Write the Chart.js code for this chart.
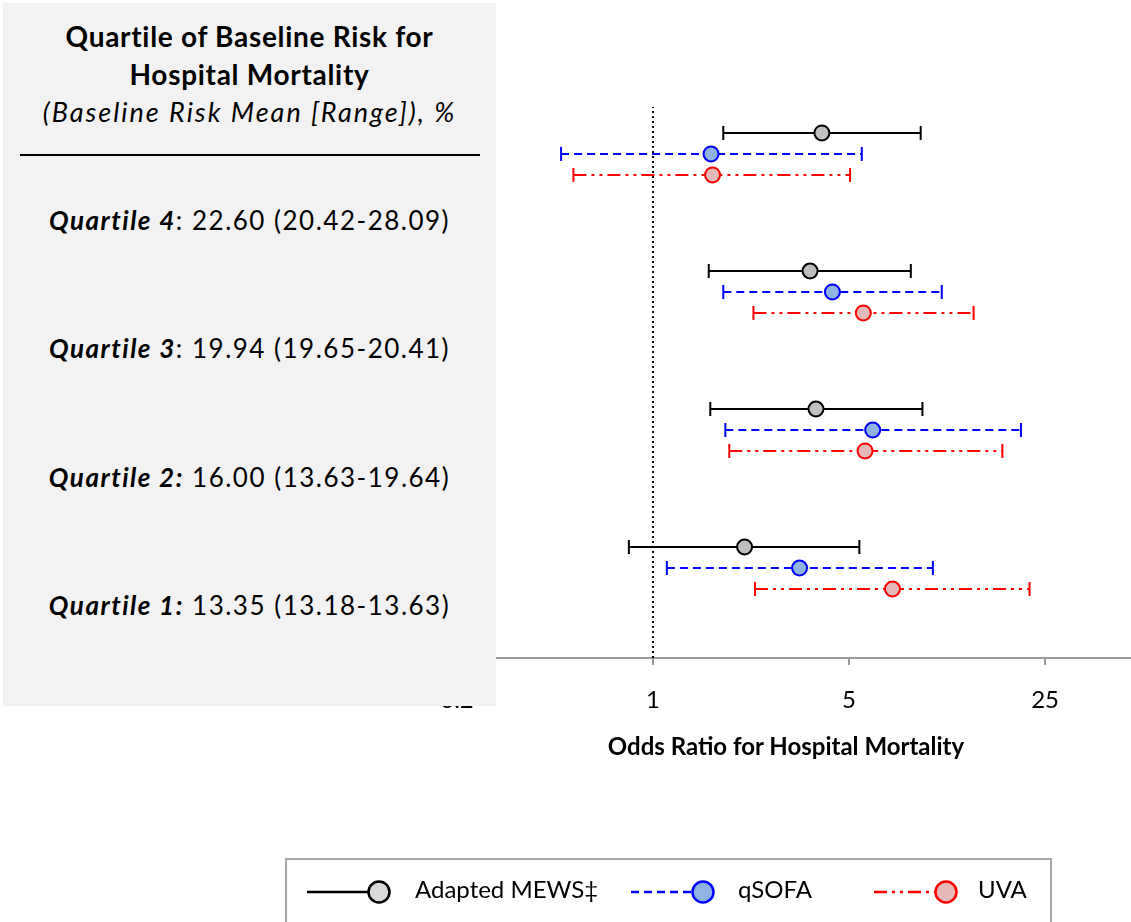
<!DOCTYPE html>
<html>
<head>
<meta charset="utf-8">
<script src="https://cdn.jsdelivr.net/npm/chart.js@4.4.1/dist/chart.umd.min.js"></script>
<style>
  html, body { margin:0; padding:0; background:#fff; }
  body { width:1131px; height:922px; position:relative; overflow:hidden; font-family: Lato, "Open Sans", sans-serif; color:#000; }
  #c { position:absolute; left:0; top:0; }
  #panel { position:absolute; left:3px; top:3px; width:493px; height:703px; background:#f2f2f2; }
  .ttl { position:absolute; left:0; width:493px; text-align:center; font-size:28px; font-weight:bold; line-height:30px; letter-spacing:0.7px; white-space:nowrap; }
  .sub { position:absolute; left:0; width:493px; text-align:center; font-size:27px; font-style:italic; line-height:30px; letter-spacing:2px; white-space:nowrap; }
  #rule { position:absolute; left:17px; top:151px; width:460px; height:2px; background:#000; }
  .q { position:absolute; left:0; width:493px; text-align:center; font-size:26px; line-height:30px; letter-spacing:1.5px; white-space:nowrap; }
  .q b { font-style:italic; }
  #xtitle { position:absolute; left:586px; width:400px; top:731px; line-height:30px; text-align:center; font-weight:bold; font-size:24px; white-space:nowrap; }
  #legend { position:absolute; left:285px; top:858px; width:767px; height:90px; border:2px solid #a6a6a6; box-sizing:border-box; }
  .li { position:absolute; top:14px; font-size:24px; line-height:30px; }
  .li svg { position:absolute; }
</style>
</head>
<body>
<canvas id="c" width="1131" height="922"></canvas>
<div id="panel"></div>
<div id="xtitle">Odds Ratio for Hospital Mortality</div>
<div id="legend"></div>
<script>
// ---- data ----
const quartiles = ['Quartile 4', 'Quartile 3', 'Quartile 2', 'Quartile 1'];
const riskMean = ['22.60', '19.94', '16.00', '13.35'];
const riskRange = ['20.42-28.09', '19.65-20.41', '13.63-19.64', '13.18-13.63'];
const rowPos = [4, 3, 2, 1];

const seriesNames = ['Adapted MEWS\u2021', 'qSOFA', 'UVA'];
const mewsOR = [4.00, 3.63, 3.81, 2.12];
const mewsLo = [1.78, 1.58, 1.60, 0.82];
const mewsHi = [9.00, 8.30, 9.13, 5.44];
const qsofaOR = [1.61, 4.36, 6.07, 3.33];
const qsofaLo = [0.47, 1.78, 1.81, 1.12];
const qsofaHi = [5.55, 10.7, 20.5, 9.95];
const uvaOR = [1.63, 5.62, 5.70, 7.14];
const uvaLo = [0.52, 2.28, 1.87, 2.31];
const uvaHi = [5.04, 13.9, 17.6, 22.0];

const xTicks = [0.2, 1, 5, 25];
const refLine = 1;

// ---- styles ----
const styles = [
  { line:'#000000', fill:'#bfbfbf', dash:[], offset:0.152 },
  { line:'#0000ff', fill:'#8eb4e3', dash:[8,5], offset:0 },
  { line:'#ff0000', fill:'#e6b9b8', dash:[13,5,3,5,3,5], offset:-0.152 }
];
const seriesData = [
  { or: mewsOR, lo: mewsLo, hi: mewsHi },
  { or: qsofaOR, lo: qsofaLo, hi: qsofaHi },
  { or: uvaOR, lo: uvaLo, hi: uvaHi }
];

// ---- left panel ----
const panel = document.getElementById('panel');
panel.innerHTML =
  '<div class="ttl" style="top:18px">Quartile of Baseline Risk for</div>' +
  '<div class="ttl" style="top:56px">Hospital Mortality</div>' +
  '<div class="sub" style="top:94px">(Baseline Risk Mean [Range]), %</div>' +
  '<div id="rule"></div>';
quartiles.forEach((q, i) => {
  const d = document.createElement('div');
  d.className = 'q';
  d.style.top = (202 + i * 128.3) + 'px';
  const colonBold = i >= 2;
  d.innerHTML = colonBold
    ? '<b>' + q + ':</b> ' + riskMean[i] + ' (' + riskRange[i] + ')'
    : '<b>' + q + '</b>: ' + riskMean[i] + ' (' + riskRange[i] + ')';
  panel.appendChild(d);
});

// ---- legend ----
const legend = document.getElementById('legend');
const legX = [18, 342, 585];
const legTextX = [128, 451, 691];
seriesNames.forEach((n, i) => {
  const s = styles[i];
  const w = 96;
  const svg = '<svg width="' + w + '" height="30" style="left:' + legX[i] + 'px;top:3px">' +
    '<line x1="2" y1="15" x2="' + (w - 24) + '" y2="15" stroke="' + s.line + '" stroke-width="2.5" stroke-dasharray="' + (s.dash.length ? s.dash.join(',') : 'none') + '"/>' +
    '<circle cx="' + (w - 22) + '" cy="15" r="10.5" fill="' + (i === 0 ? '#d9d9d9' : s.fill) + '" stroke="' + s.line + '" stroke-width="2.5"/></svg>';
  const d = document.createElement('div');
  d.className = 'li';
  d.style.left = '0px';
  d.innerHTML = svg + '<span style="position:absolute;left:' + legTextX[i] + 'px;top:0;white-space:nowrap">' + n + '</span>';
  legend.appendChild(d);
});

// ---- chart ----
const datasets = [];
seriesData.forEach((sd, si) => {
  const st = styles[si];
  sd.or.forEach((v, qi) => {
    const y = rowPos[qi] + st.offset;
    datasets.push({
      type: 'scatter',
      showLine: true,
      data: [{ x: sd.lo[qi], y: y }, { x: sd.hi[qi], y: y }],
      borderColor: st.line,
      borderWidth: 2,
      borderDash: st.dash,
      pointStyle: 'line',
      rotation: 90,
      pointRadius: 7,
      pointBorderWidth: 2,
      pointBorderColor: st.line,
      order: 2
    });
  });
  datasets.push({
    type: 'scatter',
    showLine: false,
    data: sd.or.map((v, qi) => ({ x: v, y: rowPos[qi] + st.offset })),
    pointRadius: 7.5,
    pointBorderWidth: 2,
    pointBorderColor: st.line,
    pointBackgroundColor: st.fill,
    order: 0
  });
});
datasets.push({
  type: 'scatter',
  showLine: true,
  data: [{ x: refLine, y: 0.348 }, { x: refLine, y: 4.34 }],
  borderColor: '#000',
  borderWidth: 2,
  borderDash: [2, 3],
  pointRadius: 0,
  order: 3
});

new Chart(document.getElementById('c'), {
  type: 'scatter',
  data: { datasets },
  options: {
    responsive: false,
    animation: false,
    devicePixelRatio: 1,
    layout: { autoPadding: false, padding: { left: 457, right: 0, top: 107, bottom: 204 } },
    plugins: { legend: { display: false }, tooltip: { enabled: false } },
    scales: {
      x: {
        type: 'logarithmic',
        min: 0.2,
        max: 50.6,
        afterBuildTicks: (sc) => { sc.ticks = xTicks.map(v => ({ value: v })); },
        afterFit: (sc) => { sc.height = 60; sc.paddingLeft = 0; sc.paddingRight = 0; },
        ticks: {
          callback: (v) => String(v),
          color: '#000',
          font: { family: 'Lato', size: 24 },
          padding: 21,
          maxRotation: 0,
          autoSkip: false
        },
        grid: { display: true, drawOnChartArea: false, drawTicks: true, tickLength: 7, color: '#999', lineWidth: 2 },
        border: { display: true, color: '#999', width: 2 }
      },
      y: {
        type: 'linear',
        min: 0.348,
        max: 4.34,
        display: false
      }
    }
  }
});
</script>
</body>
</html>
